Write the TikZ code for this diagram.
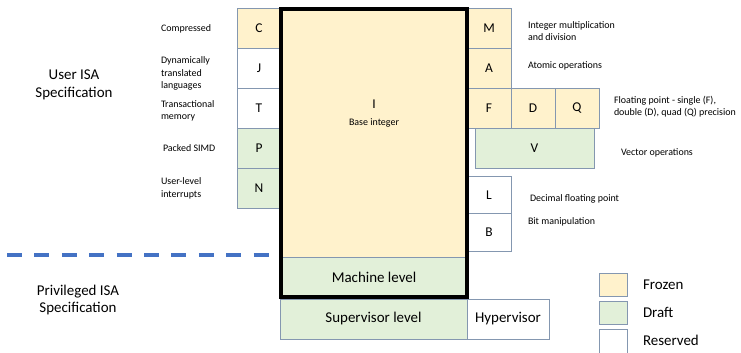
\documentclass[tikz,border=0pt]{standalone}
\usepackage{fontspec}
\setmainfont{Carlito}
\usetikzlibrary{positioning}

\definecolor{frozenfill}{HTML}{FFF2CC}
\definecolor{draftfill}{HTML}{E2F0D9}
\definecolor{boxedge}{HTML}{8497B0}
\definecolor{splitline}{HTML}{4472C4}

\begin{document}
\begin{tikzpicture}[
		x=1bp, y=-1bp,
		node distance=0pt,
		every node/.style={inner sep=0pt, outer sep=0pt},
		ext/.style={draw=boxedge, line width=0.9bp, minimum width=44bp, minimum height=40bp, font=\fontsize{13.5}{16}\selectfont},
		frozen/.style={ext, fill=frozenfill},
		draft/.style={ext, fill=draftfill},
		reserved/.style={ext, fill=white},
		note/.style={anchor=west, align=left, font=\fontsize{10}{12.6}\selectfont},
		big/.style={align=center, font=\fontsize{15}{18}\selectfont}
	]
	\useasboundingbox (0,0) rectangle (741,352);

	% base integer + machine level
	\node[frozen, anchor=north west, minimum width=186bp, minimum height=248bp] (I) at (281,9) {};
	\node[align=center, font=\fontsize{13.5}{16}\selectfont] (Itext) at (374,114) {I\\[1bp]{\fontsize{10}{12}\selectfont Base integer}};
	\node[draft, below=of I, minimum width=186bp, font=\fontsize{15}{18}\selectfont] (machine) {Machine level};

	% supervisor / hypervisor
	\node[draft, anchor=north west, minimum width=187bp, font=\fontsize{15}{18}\selectfont] (super) at (280,299) {Supervisor level};
	\node[reserved, right=of super, minimum width=82bp, font=\fontsize{15}{18}\selectfont] (hyper) {Hypervisor};

	% left column
	\node[frozen, anchor=north west] (C) at (237,8) {C};
	\node[reserved, below=of C] (J) {J};
	\node[reserved, below=of J] (T) {T};
	\node[draft, below=of T] (P) {P};
	\node[draft, below=of P] (N) {N};

	% right column
	\node[frozen, anchor=north west] (M) at (467,8) {M};
	\node[frozen, below=of M] (A) {A};
	\node[frozen, below=of A] (F) {F};
	\node[frozen, right=of F] (D) {D};
	\node[frozen, right=of D] (Q) {Q};
	\node[draft, anchor=north west, minimum width=119bp] (V) at ([xshift=8bp]F.south west) {V};
	\node[reserved, anchor=north west, minimum height=37.5bp] (L) at (467,176) {L};
	\node[reserved, below=of L, minimum height=37.5bp] (B) {B};

	% heavy frame round I and machine level
	\draw[line width=3.5bp] (I.north west) rectangle (machine.south east);

	% user / privileged split
	\coordinate (splitL) at (7,255);
	\coordinate (splitR) at (269,255);
	\draw[splitline, line width=3.8bp, dash pattern=on 15bp off 12.4bp] (splitL) -- (splitR);

	\node[big] (user) at (74,85) {User ISA\\Specification};
	\node[big] (priv) at (78,300) {Privileged ISA\\Specification};

	% extension names
	\node[note] (cmpr) at (161,29) {Compressed};
	\node[note] (dyn) at (161,73.5) {Dynamically\\translated\\languages};
	\node[note] (trans) at (161,111) {Transactional\\memory};
	\node[note] (simd) at (163,148) {Packed SIMD};
	\node[note] (uli) at (161,188.5) {User-level\\interrupts};

	\node[note] (mul) at (528,31) {Integer multiplication\\and division};
	\node[note] (atom) at (528,66) {Atomic operations};
	\node[note] (fp) at (614,106.5) {Floating point - single (F),\\double (D), quad (Q) precision};
	\node[note] (vec) at (621,153) {Vector operations};
	\node[note] (dfp) at (530,199) {Decimal floating point};
	\node[note] (bit) at (528,222) {Bit manipulation};

	% key
	\node[frozen, anchor=north west, minimum width=28bp, minimum height=23bp] (kf) at (599,273) {};
	\node[draft, below=5bp of kf, minimum width=28bp, minimum height=23bp] (kd) {};
	\node[reserved, below=5bp of kd, minimum width=28bp, minimum height=26bp] (kr) {};
	\node[big, right=16bp of kf, anchor=west] (kftext) {Frozen};
	\node[big, right=16bp of kd, anchor=west] (kdtext) {Draft};
	\node[big, right=16bp of kr.north east, anchor=west, yshift=-11.5bp] (krtext) {Reserved};
\end{tikzpicture}
\end{document}
